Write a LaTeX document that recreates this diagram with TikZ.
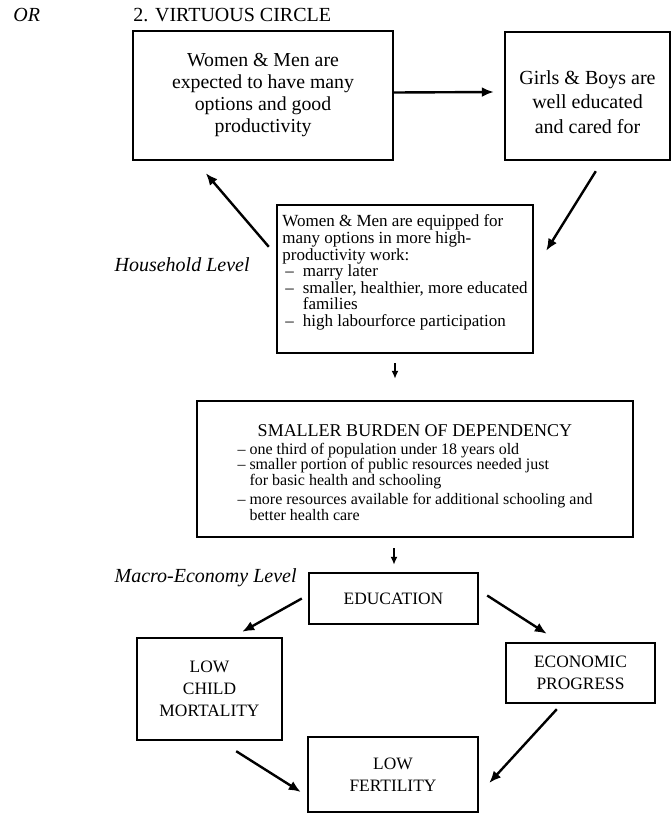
\documentclass[tikz,border=0pt]{standalone}
\usepackage{fontspec}
\setmainfont{Liberation Serif}
\usetikzlibrary{arrows.meta}

\begin{document}
\begin{tikzpicture}[x=0.5pt, y=-0.5pt, >={Latex[length=6pt,width=5pt]},
    box/.style={draw, line width=1.2pt, inner sep=0pt, align=center},
    caps/.style={font=\fontsize{8.7}{11}\selectfont},
    link/.style={->, line width=1.2pt},
    small/.style={-{Latex[length=4pt,width=3.5pt]}, line width=0.9pt},
    level/.style={anchor=east, inner sep=0pt, font=\itshape\fontsize{10}{12}\selectfont}]
    \useasboundingbox (0,0) rectangle (672,815);

    \node[anchor=west, inner sep=0pt, font=\itshape\fontsize{10}{12}\selectfont] (or) at (13,15) {OR};
    \node[anchor=west, inner sep=0pt, font=\fontsize{10}{12}\selectfont] (title) at (133,15) {2. VIRTUOUS CIRCLE};

    \node[box, minimum width=130pt, minimum height=64.5pt, font=\fontsize{9.9}{11}\selectfont] (expect) at (263,95.5)
        {Women \& Men are\\ expected to have many\\ options and good\\ productivity};
    \node[box, minimum width=82.5pt, minimum height=64pt, font=\fontsize{10}{12.2}\selectfont] (cared) at (587.5,96)
        {\rule{0pt}{13pt}Girls \& Boys are\\ well educated\\ and cared for};
    \node[box, align=left, minimum width=128pt, minimum height=74pt, font=\fontsize{8.5}{8.3}\selectfont] (equip) at (405,279)
        {Women \& Men are equipped for\\ many options in more high-\\ productivity work:\\
         \hspace*{1.5pt}--\hspace{4.5pt}marry later\\
         \hspace*{1.5pt}--\hspace{4.5pt}smaller, healthier, more educated\\
         \hspace*{1.5pt}\phantom{--}\hspace{4.5pt}families\\
         \hspace*{1.5pt}--\hspace{4.5pt}high labourforce participation\\ \mbox{}};
    \node[level] (house) at (250,265) {Household Level};

    \node[box, minimum width=218pt, minimum height=68pt, font=\fontsize{8}{7.6}\selectfont] (burden) at (415,469)
        {\begin{tabular}{@{}l@{}}
         \multicolumn{1}{@{}c@{}}{\fontsize{9}{10}\selectfont\rule{0pt}{11.5pt}SMALLER BURDEN OF DEPENDENCY}\\[1pt]
         -- one third of population under 18 years old\\
         -- smaller portion of public resources needed just\\
         \phantom{-- }for basic health and schooling\\[1.5pt]
         -- more resources available for additional schooling and\\
         \phantom{-- }better health care
         \end{tabular}};

    \node[level] (macro) at (297,578) {Macro-Economy Level};
    \node[box, caps, minimum width=84.5pt, minimum height=25.5pt] (edu) at (393.5,598.5) {EDUCATION};
    \node[box, caps, minimum width=72.5pt, minimum height=51pt] (mort) at (209.5,689) {LOW\\ CHILD\\ MORTALITY};
    \node[box, caps, minimum width=74.5pt, minimum height=30pt] (prog) at (580.5,673) {ECONOMIC\\ PROGRESS};
    \node[box, caps, minimum width=85pt, minimum height=37.5pt] (fert) at (393,774.5) {LOW\\ FERTILITY};

    \draw[link] ([shift={(0,-3)}]expect.east) -- ([shift={(-10,-4)}]cared.west);
    \draw[link] ([shift={(92,10)}]cared.south west) -- ([shift={(12,47)}]equip.north east);
    \draw[link] ([shift={(-7,43)}]equip.north west) -- ([shift={(74,12)}]expect.south west);

    \draw[small] ([shift={(-10,9)}]equip.south) -- ([shift={(-20,-21)}]burden.north);
    \draw[small] ([shift={(-21,10)}]burden.south) -- ([shift={(0.5,-7)}]edu.north);

    \draw[link] ([shift={(-6,0)}]edu.west) -- ([shift={(-41,-5)}]mort.north east);
    \draw[link] ([shift={(8,-3)}]edu.east) -- ([shift={(42,-8)}]prog.north west);
    \draw[link] ([shift={(52,5)}]prog.south west) -- ([shift={(10,8.5)}]fert.east);
    \draw[link] ([shift={(-47,10)}]mort.south east) -- ([shift={(-6,17.5)}]fert.west);
\end{tikzpicture}
\end{document}
